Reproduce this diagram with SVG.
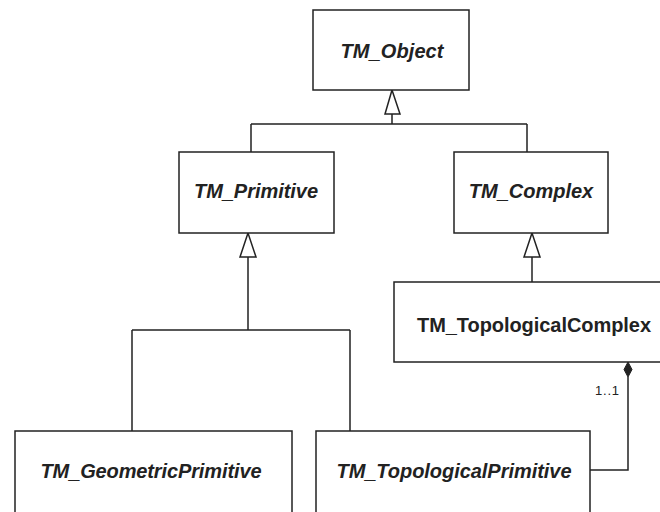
<svg xmlns="http://www.w3.org/2000/svg" width="660" height="512" viewBox="0 0 660 512">
<style>
.box{fill:#fff;stroke:#222;stroke-width:1.5}
.t{font-family:"Liberation Sans",Arial,sans-serif;font-size:20px;font-weight:bold;fill:#222;text-anchor:middle}
.i{font-style:italic}
.ln{fill:none;stroke:#222;stroke-width:1.5}
.tri{fill:#fff;stroke:#222;stroke-width:1.5}
.m{font-family:"Liberation Sans",Arial,sans-serif;font-size:13px;fill:#222}
</style>
<rect width="660" height="512" fill="#fff"/>
<g id="connectors">
<path class="ln" d="M392 114 V124 M251 124 H527 M251 124 V152 M527 124 V152"/>
<polygon class="tri" points="392,90 385,114 400,114"/>
<path class="ln" d="M248 257 V330 M132 330 H350 M132 330 V431 M350 330 V431"/>
<polygon class="tri" points="248,233 240,257 256,257"/>
<path class="ln" d="M532 257 V282"/>
<polygon class="tri" points="532,233 524,257 540,257"/>
<path class="ln" d="M590 470 H628 V377"/>
<polygon points="628,362 632,369.5 628,377 624,369.5" fill="#222" stroke="#222" stroke-width="1"/>
<text class="m" x="595" y="395" textLength="24">1..1</text>
</g>
<g id="TM_Object">
<rect class="box" x="313" y="10" width="156" height="80"/>
<text class="t i" x="392" y="58" textLength="103">TM_Object</text>
</g>
<g id="TM_Primitive">
<rect class="box" x="179" y="152" width="155" height="81"/>
<text class="t i" x="256" y="198" textLength="124">TM_Primitive</text>
</g>
<g id="TM_Complex">
<rect class="box" x="454" y="152" width="154" height="81"/>
<text class="t i" x="531" y="198">TM_Complex</text>
</g>
<g id="TM_TopologicalComplex">
<rect class="box" x="394" y="282" width="270" height="80"/>
<text class="t" x="534" y="332" textLength="234">TM_TopologicalComplex</text>
</g>
<g id="TM_GeometricPrimitive">
<rect class="box" x="15" y="431" width="277" height="90"/>
<text class="t i" x="151" y="478" textLength="221">TM_GeometricPrimitive</text>
</g>
<g id="TM_TopologicalPrimitive">
<rect class="box" x="316" y="431" width="274" height="90"/>
<text class="t i" x="454" y="478" textLength="235">TM_TopologicalPrimitive</text>
</g>
</svg>
